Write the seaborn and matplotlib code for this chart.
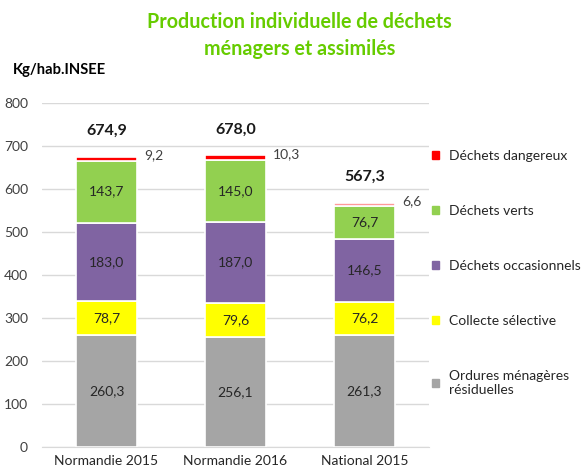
import pandas as pd
import seaborn as sns
import matplotlib.pyplot as plt
from matplotlib.patches import Patch

categories = ["Normandie 2015", "Normandie 2016", "National 2015"]
ordures = [260.3, 256.1, 261.3]
collecte = [78.7, 79.6, 76.2]
occasionnels = [183.0, 187.0, 146.5]
verts = [143.7, 145.0, 76.7]
dangereux = [9.2, 10.3, 6.6]
totals = [674.9, 678.0, 567.3]

series_names = ["Ordures ménagères\nrésiduelles", "Collecte sélective",
                "Déchets occasionnels", "Déchets verts", "Déchets dangereux"]
series_values = [ordures, collecte, occasionnels, verts, dangereux]
colors = ["#A5A5A5", "#FFFF00", "#8064A2", "#92D050", "#FF0000"]

sns.set_style("white")
plt.rcParams["font.family"] = ["Lato", "DejaVu Sans"]

fig = plt.figure(figsize=(5.81, 4.70), dpi=100)
ax = fig.add_axes([0.0723, 0.0489, 0.666, 0.732])

bottom = [0.0, 0.0, 0.0]
for name, vals, col in zip(series_names, series_values, colors):
    df = pd.DataFrame({"cat": categories, "val": vals})
    sns.barplot(data=df, x="cat", y="val", color=col, saturation=1,
                bottom=bottom, width=0.48, edgecolor="white", linewidth=1.2, ax=ax)
    if name == "Déchets dangereux":
        # national bar is drawn in a lighter red
        ax.patches[-1].set_facecolor("#FF9999")
    for i, v in enumerate(vals):
        lab = f"{v:.1f}".replace(".", ",")
        if name == "Déchets dangereux":
            ax.text(i + 0.29, bottom[i] + v + 4, lab, ha="left", va="center",
                    fontsize=10, color="#404040")
        else:
            ax.text(i, bottom[i] + v / 2, lab, ha="center", va="center",
                    fontsize=10, color="#262626")
    bottom = [b + v for b, v in zip(bottom, vals)]

for i, t in enumerate(totals):
    ax.text(i, t + 60, f"{t:.1f}".replace(".", ","), ha="center", va="center",
            fontsize=11.5, fontweight="bold", color="#1a1a1a")

ax.set_ylim(0, 800)
ax.set_xlim(-0.5, 2.5)
ax.set_yticks(range(0, 801, 100))
ax.yaxis.grid(True, color="#D9D9D9", linewidth=1)
ax.set_axisbelow(True)
ax.set_xlabel("")
ax.set_ylabel("")
for s in ["top", "right", "left"]:
    ax.spines[s].set_visible(False)
ax.spines["bottom"].set_color("#D9D9D9")
ax.tick_params(axis="y", length=0, labelsize=10, labelcolor="#404040", pad=10)
ax.tick_params(axis="x", length=0, labelsize=10, labelcolor="#262626", pad=6)
ax.set_xticks([-0.5, 0.5, 1.5, 2.5], minor=True)
ax.tick_params(axis="x", which="minor", length=5, color="#D9D9D9")

handles = [Patch(color=c) for c in colors]
fig.legend(handles[::-1], series_names[::-1], loc="upper left",
           bbox_to_anchor=(0.722, 0.708), frameon=False, fontsize=10,
           handlelength=0.5, handleheight=0.5, handletextpad=0.7,
           labelspacing=3.1, labelcolor="#262626")

fig.text(0.516, 0.953, "Production individuelle de déchets", ha="center", va="center",
         fontsize=14.2, fontweight="bold", color="#66CC00")
fig.text(0.516, 0.896, "ménagers et assimilés", ha="center", va="center",
         fontsize=14.2, fontweight="bold", color="#66CC00")
fig.text(0.022, 0.851, "Kg/hab.INSEE", ha="left", va="center",
         fontsize=10.6, fontweight="bold", color="#000000")

fig.savefig("out.png", dpi=100)
